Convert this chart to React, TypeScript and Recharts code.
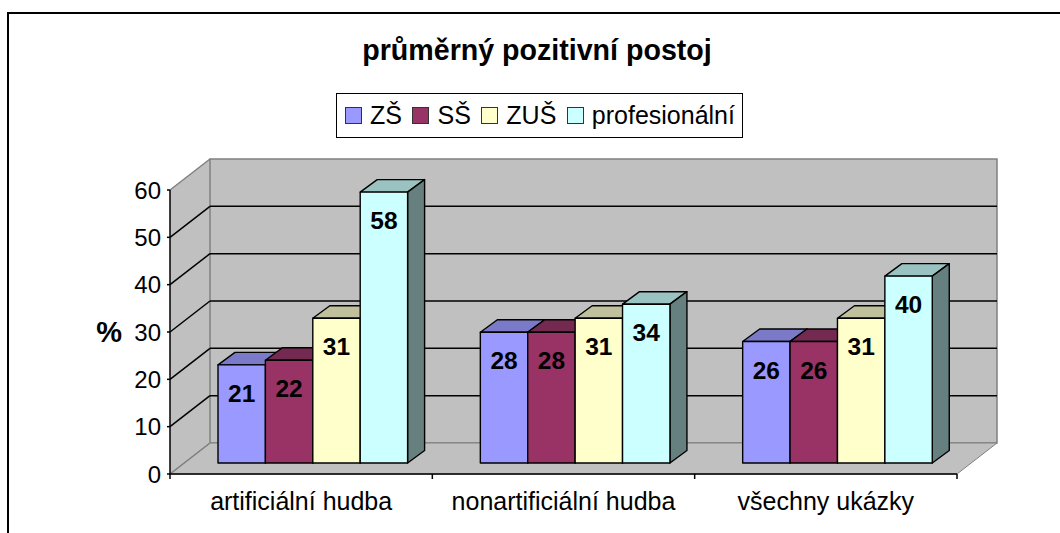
import React from 'react';
import { BarChart, Bar, XAxis, YAxis, Legend, LabelList, Customized } from 'recharts';

const categories = ['artificiální hudba', 'nonartificiální hudba', 'všechny ukázky'];
const zs = [21, 28, 26];
const ss = [22, 28, 26];
const zus = [31, 31, 31];
const prof = [58, 34, 40];
const yTicks = [0, 10, 20, 30, 40, 50, 60];

const seriesInfo = [
  { key: 'zs', name: 'ZŠ', front: '#9999FF', top: '#7A7AC8', side: '#5F5F9F' },
  { key: 'ss', name: 'SŠ', front: '#993366', top: '#742A50', side: '#5F2040' },
  { key: 'zus', name: 'ZUŠ', front: '#FFFFCC', top: '#C0C09C', side: '#808066' },
  { key: 'prof', name: 'profesionální', front: '#CCFFFF', top: '#99C2C0', side: '#668080' },
];

const data = categories.map((name, i) => ({ name, zs: zs[i], ss: ss[i], zus: zus[i], prof: prof[i] }));

const FONT = '"Liberation Sans", Arial, sans-serif';
const W = 1060;
const H = 533;
// front plane of the fake 3D box
const LEFT = 170;
const RIGHT = 957;
const TOP = 190;
const BOTTOM = 474;
// how far the back wall sits from the front plane
const WALL_DX = 40;
const WALL_DY = 31;
// bars stand a little inside the floor
const BAR_DX = 12;
const BAR_DY = 11;
const DEPTH_DX = 17;
const DEPTH_DY = 12.5;
// bars look slightly shorter than the front plane scale
const SHRINK = 60 / 60.8;

const Walls = () => {
  const yOf = (v: number) => BOTTOM - ((BOTTOM - TOP) * v) / 60;
  const grey = '#808080';
  return (
    <g>
      <line x1={8} y1={533} x2={8} y2={13} stroke="#000" strokeWidth={2} />
      <line x1={7} y1={13} x2={1060} y2={13} stroke="#000" strokeWidth={2} />
      <text x={537} y={60} textAnchor="middle" fontFamily={FONT} fontWeight="bold" fontSize={28.6} fill="#000">
        průměrný pozitivní postoj
      </text>
      <polygon
        points={`${LEFT},${TOP} ${LEFT + WALL_DX},${TOP - WALL_DY} ${LEFT + WALL_DX},${BOTTOM - WALL_DY} ${LEFT},${BOTTOM}`}
        fill="#C0C0C0"
      />
      <rect x={LEFT + WALL_DX} y={TOP - WALL_DY} width={RIGHT - LEFT} height={BOTTOM - TOP} fill="#C0C0C0" stroke={grey} strokeWidth={1.5} />
      <polygon
        points={`${LEFT},${BOTTOM} ${LEFT + WALL_DX},${BOTTOM - WALL_DY} ${RIGHT + WALL_DX},${BOTTOM - WALL_DY} ${RIGHT},${BOTTOM}`}
        fill="#C0C0C0"
        stroke={grey}
        strokeWidth={1}
      />
      {yTicks.map((t) => {
        const edge = t === 0 || t === 60;
        const y = yOf(t);
        return (
          <g key={t}>
            <line x1={LEFT} y1={y} x2={LEFT + WALL_DX} y2={y - WALL_DY} stroke={edge ? grey : '#000'} strokeWidth={1.5} />
            {!edge && <line x1={LEFT + WALL_DX} y1={y - WALL_DY} x2={RIGHT + WALL_DX} y2={y - WALL_DY} stroke="#000" strokeWidth={1.5} />}
          </g>
        );
      })}
    </g>
  );
};

const Box3D = ({ x, y, width, height, front, top, side }: any) => {
  const fx = x + BAR_DX;
  const h = height * SHRINK;
  const fy = y + height - h - BAR_DY;
  return (
    <g stroke="#000" strokeWidth={1.4} strokeLinejoin="round">
      <polygon
        points={`${fx},${fy} ${fx + DEPTH_DX},${fy - DEPTH_DY} ${fx + width + DEPTH_DX},${fy - DEPTH_DY} ${fx + width},${fy}`}
        fill={top}
      />
      <polygon
        points={`${fx + width},${fy} ${fx + width + DEPTH_DX},${fy - DEPTH_DY} ${fx + width + DEPTH_DX},${fy + h - DEPTH_DY} ${fx + width},${fy + h}`}
        fill={side}
      />
      <rect x={fx} y={fy} width={width} height={h} fill={front} />
    </g>
  );
};

const ValueLabel = ({ x, y, width, height, value }: any) => (
  <text
    x={x + BAR_DX + width / 2}
    y={y + height - height * SHRINK - BAR_DY + 37}
    textAnchor="middle"
    fontFamily={FONT}
    fontWeight="bold"
    fontSize={24.5}
    fill="#000"
  >
    {value}
  </text>
);

// category ticks sit between the groups, the label stays in the middle
const CategoryTick = ({ x, payload, index }: any) => {
  const band = (RIGHT - LEFT) / categories.length;
  return (
    <g>
      <line x1={x - band / 2} y1={BOTTOM} x2={x - band / 2} y2={BOTTOM + 5} stroke="#000" strokeWidth={1.5} />
      {index === categories.length - 1 && (
        <line x1={x + band / 2} y1={BOTTOM} x2={x + band / 2} y2={BOTTOM + 5} stroke="#000" strokeWidth={1.5} />
      )}
      <text x={x} y={BOTTOM + 36} textAnchor="middle" fontFamily={FONT} fontSize={25} fill="#000">
        {payload.value}
      </text>
    </g>
  );
};

const LegendBox = () => (
  <div
    style={{
      display: 'flex',
      alignItems: 'center',
      boxSizing: 'border-box',
      height: 45,
      width: 407,
      paddingLeft: 8,
      border: '1.5px solid #000',
      background: '#fff',
      fontFamily: FONT,
      fontSize: 25,
      color: '#000',
    }}
  >
    {seriesInfo.map((s) => (
      <span key={s.key} style={{ display: 'flex', alignItems: 'center', marginRight: 10.5 }}>
        <span
          style={{
            display: 'inline-block',
            boxSizing: 'border-box',
            width: 17,
            height: 17,
            marginRight: 8,
            background: s.front,
            border: '1.5px solid #333',
          }}
        />
        {s.name}
      </span>
    ))}
  </div>
);

const App = () => (
  <div style={{ position: 'absolute', left: 0, top: 0, width: W, height: H, background: '#fff' }}>
    <BarChart
      width={W}
      height={H}
      data={data}
      barSize={47.4}
      barGap={0}
      margin={{ top: TOP, right: W - RIGHT, bottom: 0, left: LEFT - 60 }}
    >
      <Customized component={Walls} />
      <XAxis dataKey="name" height={H - BOTTOM} axisLine={{ stroke: '#000', strokeWidth: 1.5 }} tickLine={false} tick={<CategoryTick />} interval={0} />
      <YAxis
        width={60}
        domain={[0, 60]}
        ticks={yTicks}
        interval={0}
        axisLine={{ stroke: '#000', strokeWidth: 1.5 }}
        tickLine={{ stroke: '#000', strokeWidth: 1.5 }}
        tickSize={3}
        tickMargin={6}
        tick={{ fontFamily: FONT, fontSize: 24, fill: '#000' }}
        label={{ value: '%', position: 'left', offset: -12, fontFamily: FONT, fontWeight: 'bold', fontSize: 29, fill: '#000' }}
      />
      <Legend
        layout="horizontal"
        align="center"
        verticalAlign="middle"
        content={<LegendBox />}
        wrapperStyle={{ left: 336, top: 93, width: 407, height: 45 }}
      />
      {seriesInfo.map((s) => (
        <Bar
          key={s.key}
          dataKey={s.key}
          name={s.name}
          fill={s.front}
          isAnimationActive={false}
          shape={(p: any) => <Box3D {...p} front={s.front} top={s.top} side={s.side} />}
        >
          <LabelList dataKey={s.key} content={<ValueLabel />} />
        </Bar>
      ))}
    </BarChart>
  </div>
);

export default App;
